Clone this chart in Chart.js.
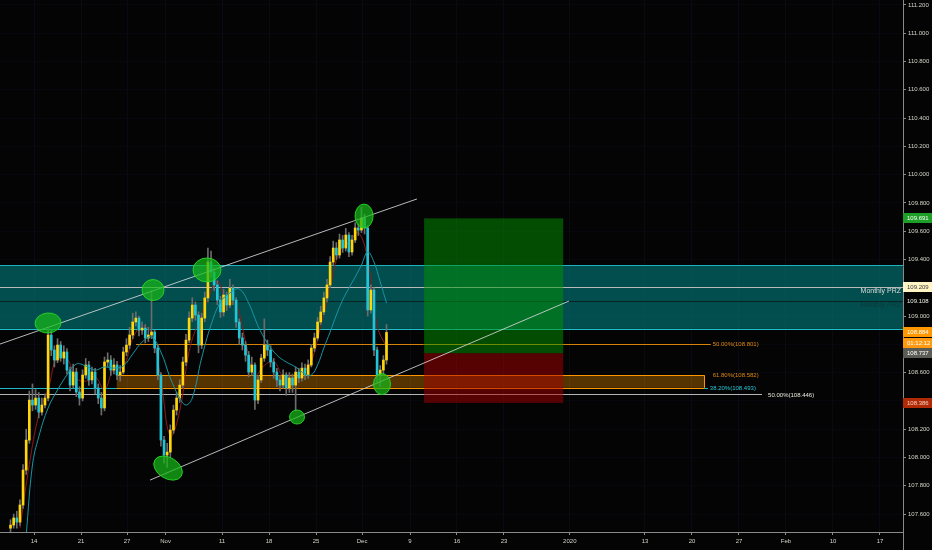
<!DOCTYPE html>
<html>
<head>
<meta charset="utf-8">
<script src="https://cdn.jsdelivr.net/npm/chart.js@4.4.1/dist/chart.umd.min.js"></script>
<style>
  html, body { margin: 0; padding: 0; background: #050505; }
  canvas { display: block; }
</style>
</head>
<body>
<canvas id="chart" width="932" height="550"></canvas>
<script>
// x axis is in trading days, 0 = Mon Oct 14 2019 (weekends removed like TradingView)
var firstDay = -2.5;   // x of the first candle
var barStep = 1 / 3;   // days per candle
var firstOpen = 107.50;

var closes = [
  107.522, 107.572, 107.543, 107.664, 107.911, 108.123, 108.406, 108.371, 108.420, 108.321,
  108.371, 108.420, 108.866, 108.760, 108.689, 108.795, 108.703, 108.746, 108.618, 108.512,
  108.604, 108.463, 108.420, 108.583, 108.654, 108.548, 108.604, 108.491, 108.420, 108.350,
  108.675, 108.689, 108.618, 108.654, 108.583, 108.604, 108.746, 108.795, 108.866, 108.958,
  108.986, 108.901, 108.915, 108.845, 108.866, 108.887, 108.774, 108.583, 108.123, 108.017,
  108.038, 108.194, 108.335, 108.420, 108.512, 108.675, 108.830, 108.986, 109.078, 109.007,
  108.795, 108.986, 109.128, 109.382, 109.311, 109.220, 109.113, 109.029, 109.149, 109.078,
  109.198, 109.113, 108.958, 108.845, 108.795, 108.724, 108.604, 108.654, 108.406, 108.548,
  108.703, 108.795, 108.760, 108.675, 108.604, 108.548, 108.512, 108.583, 108.491, 108.562,
  108.512, 108.604, 108.562, 108.632, 108.583, 108.654, 108.774, 108.845, 108.958, 109.029,
  109.128, 109.220, 109.382, 109.481, 109.432, 109.538, 109.481, 109.573, 109.453, 109.538,
  109.623, 109.608, 109.693, 109.623, 109.043, 109.184, 108.760, 108.583, 108.618, 108.689, 108.884
];
var highs = [
  107.56, 107.60, 107.62, 107.70, 107.95, 108.20, 108.47, 108.52, 108.48, 108.46,
  108.42, 108.45, 108.92, 108.90, 108.79, 108.84, 108.82, 108.79, 108.77, 108.64,
  108.66, 108.63, 108.50, 108.62, 108.70, 108.68, 108.64, 108.63, 108.52, 108.46,
  108.71, 108.74, 108.72, 108.70, 108.68, 108.65, 108.78, 108.84, 108.92, 109.02,
  109.03, 109.00, 108.96, 108.94, 108.92, 109.18, 108.90, 108.80, 108.60, 108.15,
  108.10, 108.23, 108.37, 108.46, 108.55, 108.71, 108.87, 109.03, 109.13, 109.10,
  109.03, 109.02, 109.17, 109.48, 109.46, 109.34, 109.25, 109.14, 109.19, 109.17,
  109.26, 109.22, 109.13, 108.98, 108.88, 108.82, 108.75, 108.71, 108.67, 108.58,
  108.73, 108.98, 108.83, 108.79, 108.70, 108.63, 108.58, 108.62, 108.60, 108.60,
  108.59, 108.64, 108.63, 108.67, 108.66, 108.69, 108.80, 108.88, 108.99, 109.07,
  109.17, 109.26, 109.42, 109.53, 109.52, 109.58, 109.57, 109.62, 109.59, 109.57,
  109.66, 109.65, 109.77, 109.72, 109.64, 109.22, 109.20, 108.78, 108.65, 108.72, 108.94
];
var lows = [
  107.47, 107.50, 107.50, 107.52, 107.64, 107.88, 108.10, 108.33, 108.34, 108.28,
  108.30, 108.35, 108.40, 108.72, 108.64, 108.67, 108.68, 108.66, 108.59, 108.47,
  108.49, 108.43, 108.37, 108.40, 108.56, 108.51, 108.52, 108.45, 108.38, 108.30,
  108.33, 108.64, 108.58, 108.59, 108.55, 108.54, 108.59, 108.72, 108.77, 108.84,
  108.93, 108.86, 108.87, 108.81, 108.82, 108.84, 108.74, 108.55, 108.08, 107.96,
  107.93, 108.00, 108.17, 108.30, 108.39, 108.49, 108.65, 108.81, 108.96, 108.97,
  108.74, 108.77, 108.96, 109.10, 109.27, 109.18, 109.08, 108.99, 109.00, 109.04,
  109.06, 109.08, 108.92, 108.80, 108.76, 108.68, 108.57, 108.58, 108.34, 108.38,
  108.53, 108.68, 108.72, 108.64, 108.56, 108.50, 108.47, 108.49, 108.44, 108.46,
  108.46, 108.33, 108.53, 108.54, 108.55, 108.56, 108.64, 108.75, 108.83, 108.94,
  109.01, 109.10, 109.20, 109.36, 109.40, 109.41, 109.45, 109.46, 109.42, 109.43,
  109.52, 109.57, 109.59, 109.58, 109.00, 109.02, 108.72, 108.53, 108.50, 108.58, 108.66
];

// moving averages, read at some candle indexes
var slowMaIdx = [5, 7, 9, 12, 15, 18, 21, 24, 27, 30, 33, 36, 39, 42, 45, 48, 51, 54, 56, 58,
  61, 64, 67, 70, 73, 76, 79, 82, 85, 88, 91, 94, 96, 98, 100, 102, 104, 106, 108, 110,
  112, 114, 116, 118, 120];
var slowMa = [107.451, 107.947, 108.145, 108.350, 108.477, 108.583, 108.661, 108.647, 108.618, 108.640,
  108.632, 108.647, 108.732, 108.816, 108.852, 108.746, 108.562, 108.420, 108.371, 108.420,
  108.703, 108.937, 109.099, 109.163, 109.191, 109.092, 108.930, 108.809, 108.724, 108.675,
  108.640, 108.590, 108.583, 108.654, 108.774, 108.887, 109.007, 109.113, 109.198, 109.276,
  109.361, 109.453, 109.382, 109.241, 109.092];
var fastMaIdx = [3, 6, 9, 12, 15, 18, 21, 24, 27, 30, 33, 36, 39, 42, 45, 48, 51, 54, 57, 60,
  63, 66, 69, 72, 75, 78, 81, 84, 87, 90, 93, 96, 99, 102, 105, 108, 111, 114, 117, 120];
var fastMa = [107.50, 107.95, 108.30, 108.48, 108.72, 108.70, 108.56, 108.54, 108.57, 108.48,
  108.63, 108.64, 108.84, 108.93, 108.88, 108.55, 108.15, 108.33, 108.75, 108.96,
  109.12, 109.25, 109.10, 109.08, 108.82, 108.58, 108.65, 108.68, 108.57, 108.54,
  108.59, 108.68, 108.93, 109.20, 109.46, 109.52, 109.59, 109.40, 108.93, 108.78];

var xTickDays = [0, 5, 9.9, 14, 20, 25, 30, 34.9, 40, 45, 50, 57, 65, 70, 75, 80, 85, 90];
var xTickLabels = ['14', '21', '27', 'Nov', '11', '18', '25', 'Dec', '9', '16', '23', '2020',
  '13', '20', '27', 'Feb', '10', '17'];
var yTicks = [111.2, 111.0, 110.8, 110.6, 110.4, 110.2, 110.0, 109.8, 109.6, 109.4, 109.2,
  109.0, 108.8, 108.6, 108.4, 108.2, 108.0, 107.8, 107.6];

// drawn levels
var przTop = 109.361, przBottom = 108.909, przMid = 109.209, przLow = 109.108;
var fib50 = 108.801, fib618 = 108.582, fib382 = 108.493, fib50b = 108.446;
var targetPrice = 109.691, entryPrice = 108.737, stopPrice = 108.386, lastPrice = 108.884;
var fibBoxDays = [8.8, 71.3], fib50Days = [10.85, 72.0], fibLabelDay = 72.2, fib382LabelDay = 71.9;
var fib50bEndDay = 77.45, fib50bLabelDay = 78.1;
var positionDays = [41.5, 56.3];
var upperLine = { days: [-3.62, 40.74], prices: [108.802, 109.828] };
var lowerLine = { days: [12.34, 56.91], prices: [107.840, 109.106] };
var markDays = [1.49, 12.66, 18.40, 14.26, 27.98, 35.11, 37.02];
var markPrices = [108.951, 109.184, 109.326, 107.925, 108.286, 109.707, 108.519];
var countdown = '01:12:12';

var upColor = '#ffd60a', downColor = '#22c4d6', wickColor = '#6c6c6c';
var font = 'Liberation Sans, Arial, sans-serif';

var bodies = [], wicks = [], bodyColors = [];
closes.forEach(function(c, i) {
  var o = i ? closes[i - 1] : firstOpen;
  var d = firstDay + i * barStep;
  bodies.push({ x: d, y: [o, c] });
  wicks.push({ x: d, y: [lows[i], highs[i]] });
  bodyColors.push(c >= o ? upColor : downColor);
});
var slowLine = slowMaIdx.map(function(k, j) { return { x: firstDay + k * barStep, y: slowMa[j] }; });
var fastLine = fastMaIdx.map(function(k, j) { return { x: firstDay + k * barStep, y: fastMa[j] }; });

function hline(ctx, x1, x2, y, color, w) {
  ctx.strokeStyle = color;
  ctx.lineWidth = w || 1;
  ctx.beginPath();
  ctx.moveTo(x1, Math.round(y) + 0.5);
  ctx.lineTo(x2, Math.round(y) + 0.5);
  ctx.stroke();
}

function tag(ctx, left, y, text, bg, fg) {
  if (bg) {
    ctx.fillStyle = bg;
    ctx.fillRect(left, Math.round(y) - 5, 29, 10);
  }
  ctx.fillStyle = fg;
  ctx.font = '6px ' + font;
  ctx.textAlign = 'left';
  ctx.textBaseline = 'middle';
  ctx.fillText(text, left + 4, Math.round(y) + 0.5);
}

var overlay = {
  id: 'overlay',
  beforeDraw: function(chart) {
    var ctx = chart.ctx;
    ctx.save();
    ctx.fillStyle = '#040404';
    ctx.fillRect(0, 0, chart.width, chart.height);
    ctx.restore();
  },
  beforeDatasetsDraw: function(chart) {
    var ctx = chart.ctx, a = chart.chartArea, xs = chart.scales.x, ys = chart.scales.y;
    var X = function(d) { return xs.getPixelForValue(d); };
    var Y = function(p) { return ys.getPixelForValue(p); };
    ctx.save();
    ctx.beginPath();
    ctx.rect(a.left, a.top, a.right - a.left, a.bottom - a.top);
    ctx.clip();

    // monthly PRZ zone
    var t = Y(przTop), b = Y(przBottom);
    ctx.fillStyle = 'rgba(0,150,150,0.5)';
    ctx.fillRect(a.left, t, a.right - a.left, b - t);
    hline(ctx, a.left, a.right, t, '#1fb5c0');
    hline(ctx, a.left, a.right, b, '#1fc0cc');
    hline(ctx, a.left, a.right, Y(przMid), '#b9b9b9');
    hline(ctx, a.left, a.right, Y(przLow), '#062424');

    // fib levels
    hline(ctx, X(fib50Days[0]), X(fib50Days[1]), Y(fib50), '#d9820a');
    hline(ctx, a.left, X(fib382LabelDay) - 2, Y(fib382), '#1fb8c8');
    hline(ctx, a.left, X(fib50bEndDay), Y(fib50b), '#b5b5b5');
    var bt = Y(fib618), bb = Y(fib382);
    ctx.fillStyle = 'rgba(255,152,0,0.33)';
    ctx.fillRect(X(fibBoxDays[0]), bt, X(fibBoxDays[1]) - X(fibBoxDays[0]), bb - bt);
    hline(ctx, X(fibBoxDays[0]), X(fibBoxDays[1]), bt, '#ff9800');
    hline(ctx, X(fibBoxDays[0]), X(fibBoxDays[1]), bb, '#ff9800');
    ctx.strokeStyle = '#ff9800';
    ctx.beginPath();
    ctx.moveTo(Math.round(X(fibBoxDays[1])) + 0.5, bt);
    ctx.lineTo(Math.round(X(fibBoxDays[1])) + 0.5, bb);
    ctx.stroke();

    // long position tool
    var pl = X(positionDays[0]), pr = X(positionDays[1]);
    ctx.fillStyle = 'rgba(0,150,0,0.5)';
    ctx.fillRect(pl, Y(targetPrice), pr - pl, Y(entryPrice) - Y(targetPrice));
    ctx.fillStyle = 'rgba(170,0,0,0.5)';
    ctx.fillRect(pl, Y(entryPrice), pr - pl, Y(stopPrice) - Y(entryPrice));

    // level texts
    ctx.font = '6px ' + font;
    ctx.textAlign = 'left';
    ctx.textBaseline = 'middle';
    ctx.fillStyle = '#e08a10';
    ctx.fillText('50.00%(' + fib50.toFixed(3) + ')', X(fibLabelDay), Y(fib50) + 0.5);
    ctx.fillText('61.80%(' + fib618.toFixed(3) + ')', X(fibLabelDay), Y(fib618) + 0.5);
    ctx.fillStyle = '#2ac8d8';
    ctx.fillText('38.20%(' + fib382.toFixed(3) + ')', X(fib382LabelDay), Y(fib382) + 1);
    ctx.fillStyle = '#e8e8e0';
    ctx.fillText('50.00%(' + fib50b.toFixed(3) + ')', X(fib50bLabelDay), Y(fib50b) + 0.5);

    ctx.font = '7px ' + font;
    ctx.textAlign = 'right';
    ctx.textBaseline = 'top';
    ctx.fillStyle = '#dcdcdc';
    ctx.fillText('Monthly PRZ', a.right - 2, Y(przMid) + 1.5);
    ctx.font = 'italic 7px ' + font;
    ctx.fillStyle = '#0c3a3a';
    ctx.fillText('Monthly PRZ', a.right - 2, Y(przLow) + 1);
    ctx.restore();
  },
  afterDatasetsDraw: function(chart) {
    var ctx = chart.ctx, a = chart.chartArea, xs = chart.scales.x, ys = chart.scales.y;
    var X = function(d) { return xs.getPixelForValue(d); };
    var Y = function(p) { return ys.getPixelForValue(p); };
    ctx.save();
    ctx.beginPath();
    ctx.rect(a.left, a.top, a.right - a.left, a.bottom - a.top);
    ctx.clip();

    // channel lines
    ctx.strokeStyle = 'rgba(215,215,215,0.85)';
    ctx.lineWidth = 1;
    [upperLine, lowerLine].forEach(function(l) {
      ctx.beginPath();
      ctx.moveTo(X(l.days[0]), Y(l.prices[0]));
      ctx.lineTo(X(l.days[1]), Y(l.prices[1]));
      ctx.stroke();
    });

    // highlight ellipses (radius x, radius y, rotation)
    var shapes = [[13, 10, -0.08], [11, 10.5, 0], [14, 12, 0], [15.5, 10.5, 0.55], [7.5, 7, 0], [9, 12, 0], [8.5, 10.5, 0]];
    markDays.forEach(function(d, i) {
      var s = shapes[i];
      ctx.beginPath();
      ctx.ellipse(X(d), Y(markPrices[i]), s[0], s[1], s[2], 0, Math.PI * 2);
      ctx.fillStyle = 'rgba(24,185,24,0.72)';
      ctx.fill();
      ctx.strokeStyle = 'rgba(40,215,40,0.9)';
      ctx.stroke();
    });
    ctx.restore();
  },
  afterDraw: function(chart) {
    var ctx = chart.ctx, a = chart.chartArea, ys = chart.scales.y;
    var Y = function(p) { return ys.getPixelForValue(p); };
    var left = Math.round(a.right);
    ctx.save();
    ctx.strokeStyle = '#8a8a8a';
    ctx.lineWidth = 1;
    ctx.beginPath();
    ctx.moveTo(left + 0.5, a.bottom);
    ctx.lineTo(left + 0.5, chart.height);
    ctx.stroke();

    tag(ctx, left, Y(targetPrice), targetPrice.toFixed(3), '#1d9e26', '#ffffff');
    tag(ctx, left, Y(przMid), przMid.toFixed(3), '#fff4c4', '#3a3a3a');
    tag(ctx, left, Y(przLow), przLow.toFixed(3), null, '#f0f0e8');
    tag(ctx, left, Y(lastPrice), lastPrice.toFixed(3), '#ff9800', '#ffffff');
    tag(ctx, left, Y(lastPrice) + 10.5, countdown, '#ff9a10', '#ffffff');
    tag(ctx, left, Y(entryPrice), entryPrice.toFixed(3), '#5c5c56', '#ffffff');
    tag(ctx, left, Y(stopPrice), stopPrice.toFixed(3), '#b02a06', '#f4d0c0');
    ctx.restore();
  }
};

var tagPrices = [targetPrice, przMid, przLow, lastPrice, 108.80, entryPrice, stopPrice];

new Chart(document.getElementById('chart'), {
  type: 'bar',
  data: {
    datasets: [
      { type: 'line', data: slowLine, borderColor: '#1795a3', borderWidth: 1, pointRadius: 0, tension: 0.4, order: 0 },
      { type: 'bar', data: bodies, backgroundColor: bodyColors, barThickness: 2, minBarLength: 1, grouped: false, order: 1 },
      { type: 'bar', data: wicks, backgroundColor: wickColor, barThickness: 1, grouped: false, order: 2 },
      { type: 'line', data: fastLine, borderColor: '#8e1a1a', borderWidth: 1, pointRadius: 0, tension: 0.4, order: 3 }
    ]
  },
  options: {
    responsive: false,
    animation: false,
    devicePixelRatio: 1,
    events: [],
    layout: { padding: 0 },
    plugins: { legend: { display: false }, tooltip: { enabled: false } },
    scales: {
      x: {
        type: 'linear',
        min: -3.62,
        max: 92.45,
        offset: false,
        afterBuildTicks: function(s) { s.ticks = xTickDays.map(function(v) { return { value: v }; }); },
        afterFit: function(s) { s.height = 18; s.paddingLeft = 0; s.paddingRight = 0; },
        ticks: {
          autoSkip: false,
          maxRotation: 0,
          padding: 3,
          color: '#d6d6cc',
          font: { family: font, size: 6 },
          callback: function(v, i) { return xTickLabels[i]; }
        },
        grid: { offset: false, color: '#090b14', tickColor: '#8a8a8a', tickLength: 3 },
        border: { color: '#8a8a8a' }
      },
      y: {
        position: 'right',
        min: 107.473,
        max: 111.235,
        afterBuildTicks: function(s) { s.ticks = yTicks.map(function(v) { return { value: v }; }); },
        afterFit: function(s) { s.width = 29; s.paddingTop = 0; s.paddingBottom = 0; },
        ticks: {
          padding: 2,
          color: '#d6d6cc',
          font: { family: font, size: 6 },
          callback: function(v) {
            var near = tagPrices.some(function(p) { return Math.abs(p - v) < 0.07; });
            return near ? '' : v.toFixed(3);
          }
        },
        grid: { color: '#07080e', tickColor: '#8a8a8a', tickLength: 3 },
        border: { color: '#8a8a8a' }
      }
    }
  },
  plugins: [overlay]
});
</script>
</body>
</html>
